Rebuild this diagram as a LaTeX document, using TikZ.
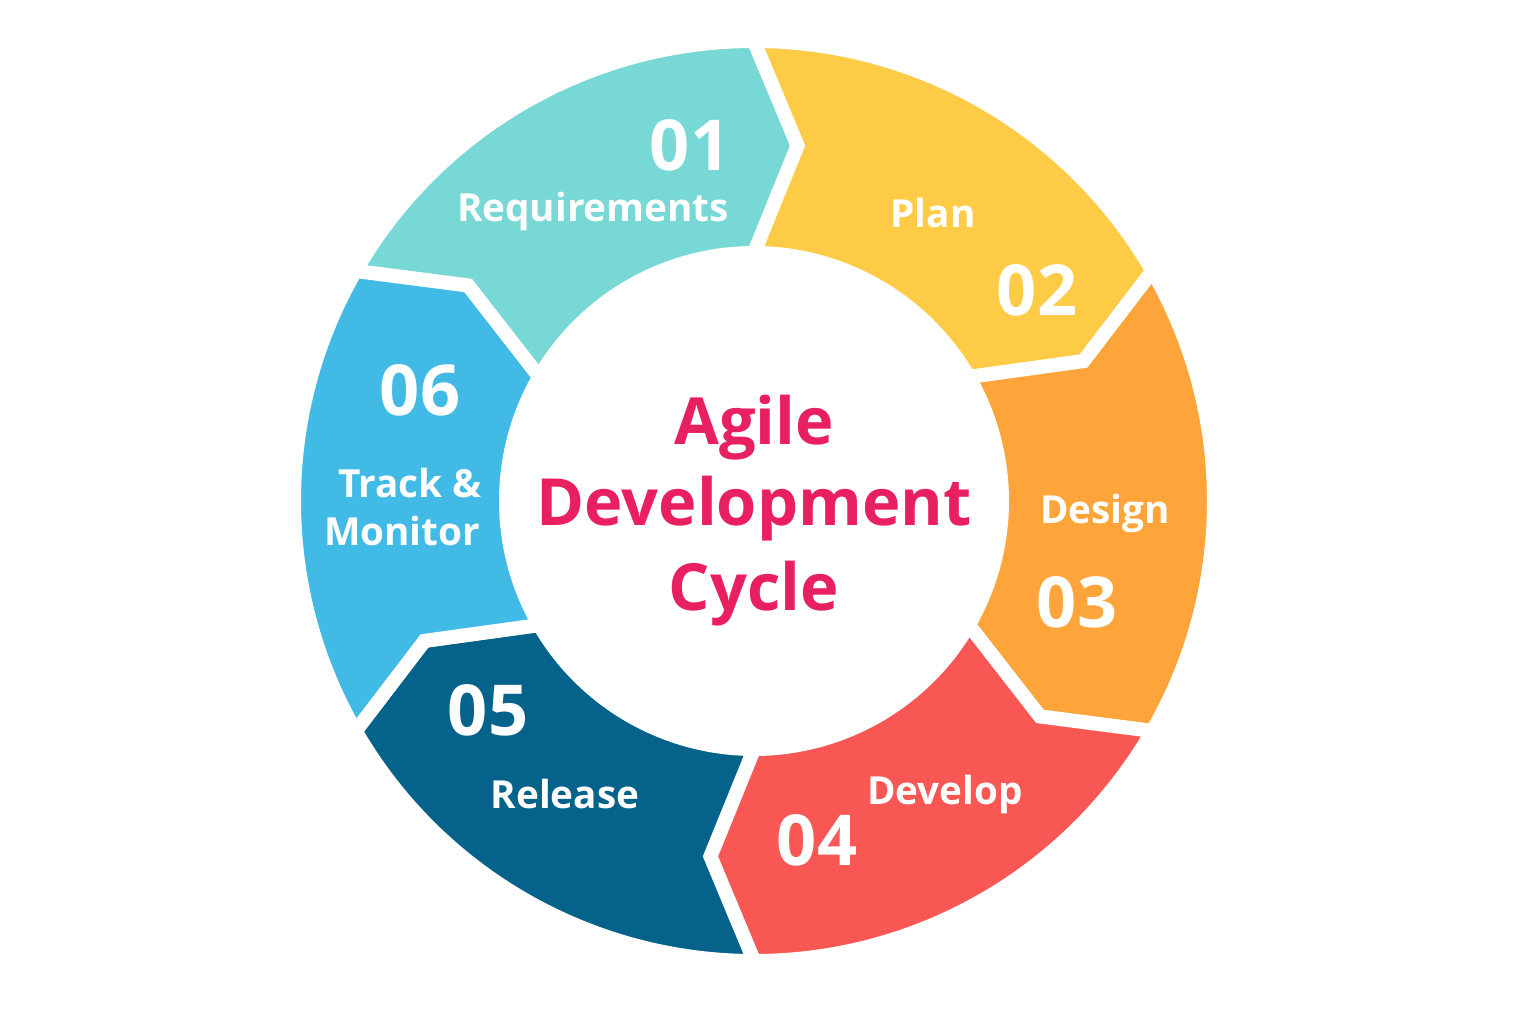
\documentclass[tikz,border=0pt]{standalone}
\usepackage{fontspec}
\setmainfont{Open Sans}
\usepackage{tikz}
\usetikzlibrary{calc}
\definecolor{teal1}{HTML}{77D8D5}
\definecolor{yellow2}{HTML}{FECB47}
\definecolor{orange3}{HTML}{FDA53A}
\definecolor{red4}{HTML}{F85754}
\definecolor{blue5}{HTML}{05628B}
\definecolor{blue6}{HTML}{42BAE6}
\definecolor{title}{HTML}{E8205F}

\begin{document}
\begin{tikzpicture}[seg/.style={draw=white,line width=0.14cm,line join=miter},
  num node/.style={text=white,font=\fontsize{20}{22}\selectfont\bfseries},
  label node/.style={text=white,font=\fontsize{11}{13}\selectfont\bfseries},
  title node/.style={text=title,font=\fontsize{18.5}{22}\selectfont\bfseries}]
  \useasboundingbox (0,0) rectangle (15.36,10.24);
  \coordinate (c) at (7.54,5.23);
  % ring segments, tips point clockwise
  \filldraw[seg,fill=teal1]   ($(c)+(150:4.6)$) arc (150:90:4.6) -- ($(c)+(83:3.58)$) -- ($(c)+(90:2.48)$) arc (90:150:2.48) -- ($(c)+(143:3.58)$) -- cycle;
  \filldraw[seg,fill=yellow2] ($(c)+(90:4.6)$) arc (90:30:4.6) -- ($(c)+(23:3.58)$) -- ($(c)+(30:2.48)$) arc (30:90:2.48) -- ($(c)+(83:3.58)$) -- cycle;
  \filldraw[seg,fill=orange3] ($(c)+(30:4.6)$) arc (30:-30:4.6) -- ($(c)+(-37:3.58)$) -- ($(c)+(-30:2.48)$) arc (-30:30:2.48) -- ($(c)+(23:3.58)$) -- cycle;
  \filldraw[seg,fill=red4]    ($(c)+(-30:4.6)$) arc (-30:-90:4.6) -- ($(c)+(-97:3.58)$) -- ($(c)+(-90:2.48)$) arc (-90:-30:2.48) -- ($(c)+(-37:3.58)$) -- cycle;
  \filldraw[seg,fill=blue5]   ($(c)+(-90:4.6)$) arc (-90:-150:4.6) -- ($(c)+(-157:3.58)$) -- ($(c)+(-150:2.48)$) arc (-150:-90:2.48) -- ($(c)+(-97:3.58)$) -- cycle;
  \filldraw[seg,fill=blue6]   ($(c)+(-150:4.6)$) arc (-150:-210:4.6) -- ($(c)+(-217:3.58)$) -- ($(c)+(-210:2.48)$) arc (-210:-150:2.48) -- ($(c)+(-157:3.58)$) -- cycle;

  \node[num node] (n1) at (6.90,8.79) {01};
  \node[label node] (l1) at (5.93,8.13) {Requirements};
  \node[label node] (l2) at (9.33,8.11) {Plan};
  \node[num node] (n2) at (10.37,7.34) {02};
  \node[label node] (l3) at (11.05,5.11) {Design};
  \node[num node] (n3) at (10.77,4.22) {03};
  \node[label node] (l4) at (9.45,2.30) {Develop};
  \node[num node] (n4) at (8.17,1.84) {04};
  \node[num node] (n5) at (4.88,3.14) {05};
  \node[label node] (l5) at (5.65,2.30) {Release};
  \node[num node] (n6) at (4.20,6.34) {06};
  \node[label node] (l6a) at (4.10,5.41) {Track \&};
  \node[label node] (l6b) at (4.02,4.93) {Monitor};

  \node[title node] (t1) at (7.54,5.96) {Agile};
  \node[title node] (t2) at (7.54,5.15) {Development};
  \node[title node] (t3) at (7.54,4.30) {Cycle};
\end{tikzpicture}
\end{document}
